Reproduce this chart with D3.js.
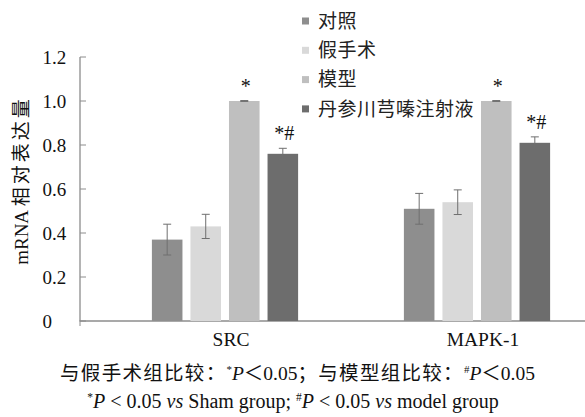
<!DOCTYPE html>
<html>
<head>
<meta charset="utf-8">
<script src="https://cdn.jsdelivr.net/npm/d3@7"></script>
<style>
  html, body { margin: 0; padding: 0; background: #fff; }
  svg { display: block; }
</style>
</head>
<body>
<svg id="chart" width="585" height="417"></svg>
<script>
// ---- data ----
const categories = ["SRC", "MAPK-1"];
const seriesNames = ["对照", "假手术", "模型", "丹参川芎嗪注射液"];
const controlValues = [0.37, 0.51];
const shamValues    = [0.43, 0.54];
const modelValues   = [1.00, 1.00];
const drugValues    = [0.76, 0.81];
const controlErr = [0.07, 0.07];
const shamErr    = [0.055, 0.056];
const modelErr   = [0.002, 0.002];
const drugErr    = [0.025, 0.027];
const seriesMarks = ["", "", "*", "*#"];
const yTicks = [0, 0.2, 0.4, 0.6, 0.8, 1.0, 1.2];
const yTickLabels = ["0", "0.2", "0.4", "0.6", "0.8", "1.0", "1.2"];

const seriesValues = [controlValues, shamValues, modelValues, drugValues];
const seriesErrs = [controlErr, shamErr, modelErr, drugErr];
const colors = ["#8e8e8e", "#d9d9d9", "#bfbfbf", "#6d6d6d"];

const svg = d3.select("#chart");
const serif = "'Liberation Serif', 'Times New Roman', serif";
const cjk = "'Noto Sans CJK SC', sans-serif";

const y = d3.scaleLinear().domain([0, 1.2]).range([321, 57]);
const x0 = d3.scaleBand().domain(categories).range([99, 603]);
const x1 = d3.scaleBand().domain(seriesNames).range([0, x0.bandwidth()])
  .paddingInner(0.207).paddingOuter(1.372);

// axes
const axisColor = "#8c8c8c";
svg.append("line").attr("x1", 80).attr("x2", 80).attr("y1", y(1.2)).attr("y2", y(0))
  .attr("stroke", axisColor).attr("stroke-width", 1.3);
svg.append("line").attr("x1", 79.5).attr("x2", 585).attr("y1", y(0)).attr("y2", y(0))
  .attr("stroke", axisColor).attr("stroke-width", 1.6);
svg.append("line").attr("x1", 80).attr("x2", 80).attr("y1", y(0)).attr("y2", y(0) + 5)
  .attr("stroke", axisColor).attr("stroke-width", 1);

const yt = svg.append("g");
yTicks.forEach((t, i) => {
  yt.append("line").attr("x1", 80).attr("x2", 86).attr("y1", y(t)).attr("y2", y(t))
    .attr("stroke", axisColor).attr("stroke-width", 1);
  yt.append("text").attr("x", 42.5).attr("y", y(t)).attr("dy", "0.35em")
    .attr("font-family", serif).attr("font-size", 19).attr("fill", "#111")
    .text(yTickLabels[i]);
});

// bars
seriesNames.forEach((s, si) => {
  const g = svg.append("g");
  categories.forEach((c, ci) => {
    const v = seriesValues[si][ci];
    const e = seriesErrs[si][ci];
    const bx = x0(c) + x1(s);
    const bw = x1.bandwidth();
    g.append("rect").attr("x", bx).attr("y", y(v)).attr("width", bw).attr("height", y(0) - y(v))
      .attr("fill", colors[si]);
    const cx = bx + bw / 2;
    const ec = "#6f6f6f";
    g.append("line").attr("x1", cx).attr("x2", cx).attr("y1", y(v + e)).attr("y2", y(v - e))
      .attr("stroke", ec).attr("stroke-width", 1);
    [v + e, v - e].forEach(ev => {
      g.append("line").attr("x1", cx - 4).attr("x2", cx + 4).attr("y1", y(ev)).attr("y2", y(ev))
        .attr("stroke", ec).attr("stroke-width", 1);
    });
    if (seriesMarks[si]) {
      g.append("text").attr("x", cx + 1.5).attr("y", y(v + e) - 8)
        .attr("text-anchor", "middle").attr("font-family", serif).attr("font-size", 20)
        .attr("fill", "#111").text(seriesMarks[si]);
    }
  });
});

// category labels
categories.forEach(c => {
  svg.append("text").attr("x", x0(c) + x0.bandwidth() / 2 + 6).attr("y", 345.5)
    .attr("text-anchor", "middle").attr("font-family", serif).attr("font-size", 19.5)
    .attr("fill", "#111").text(c);
});

// y title
const yTitle = svg.append("text").attr("transform", "translate(28,180.5) rotate(-90)")
  .attr("text-anchor", "middle").attr("font-size", 19).attr("fill", "#111");
yTitle.append("tspan").attr("font-family", serif).text("mRNA ");
yTitle.append("tspan").attr("font-family", cjk).attr("letter-spacing", "3px").text("相对表达量");

// legend
seriesNames.forEach((s, i) => {
  const cy = 21 + i * 29.3;
  svg.append("rect").attr("x", 302).attr("y", cy - 3.5).attr("width", 7).attr("height", 7)
    .attr("fill", colors[i]);
  svg.append("text").attr("x", 318).attr("y", cy).attr("dy", "0.36em")
    .attr("font-family", cjk).attr("font-size", 19).attr("letter-spacing", "0.5px")
    .attr("fill", "#222").text(s);
});

// footnotes
const f1 = svg.append("text").attr("x", 297.5).attr("y", 380).attr("text-anchor", "middle")
  .attr("font-family", serif + ", " + cjk).attr("font-size", 19.5).attr("fill", "#111");
f1.append("tspan").attr("font-family", cjk).attr("letter-spacing", "1.3px").text("与假手术组比较：");
f1.append("tspan").attr("font-size", 11).attr("dy", -7).text("*");
f1.append("tspan").attr("font-style", "italic").attr("dy", 7).text("P");
f1.append("tspan").text("＜0.05");
f1.append("tspan").attr("font-family", cjk).attr("letter-spacing", "1.3px").text("；与模型组比较：");
f1.append("tspan").attr("font-size", 11).attr("dy", -7).text("#");
f1.append("tspan").attr("font-style", "italic").attr("dy", 7).text("P");
f1.append("tspan").text("＜0.05");

const f2 = svg.append("text").attr("x", 293).attr("y", 408).attr("text-anchor", "middle")
  .attr("font-family", serif).attr("font-size", 20).attr("fill", "#111");
f2.append("tspan").attr("font-size", 11.5).attr("dy", -7).text("*");
f2.append("tspan").attr("font-style", "italic").attr("dy", 7).text("P");
f2.append("tspan").text(" < 0.05 ");
f2.append("tspan").attr("font-style", "italic").text("vs");
f2.append("tspan").text(" Sham group; ");
f2.append("tspan").attr("font-size", 11.5).attr("dy", -7).text("#");
f2.append("tspan").attr("font-style", "italic").attr("dy", 7).text("P");
f2.append("tspan").text(" < 0.05 ");
f2.append("tspan").attr("font-style", "italic").text("vs");
f2.append("tspan").text(" model group");
</script>
</body>
</html>
